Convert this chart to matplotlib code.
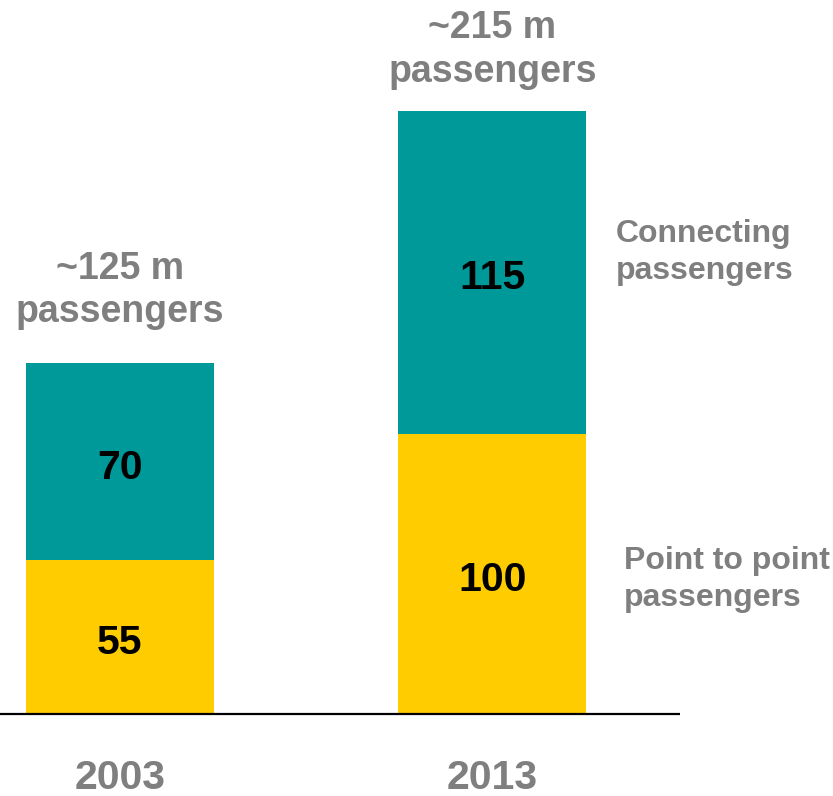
import matplotlib
matplotlib.use("Agg")
import matplotlib.pyplot as plt

# Passenger volumes (millions)
years = ["2003", "2013"]
point_to_point = [55, 100]
connecting = [70, 115]
total_labels = ["~125 m\npassengers", "~215 m\npassengers"]
series_names = ["Point to point\npassengers", "Connecting\npassengers"]

TEAL = "#009999"
YELLOW = "#FFCC00"
GREY = "#7F7F7F"
FONT = "Liberation Sans"

W, H, DPI = 833, 796, 100
fig = plt.figure(figsize=(W / DPI, H / DPI), dpi=DPI)
base_px = 714
ax = fig.add_axes([0, (H - base_px) / H, 1, base_px / H])

px_per_val = 603 / 215.0
ax.set_ylim(0, base_px / px_per_val)
px_per_x = 372.5
ax.set_xlim(-120 / px_per_x, (W - 120) / px_per_x)
ax.axis("off")

x = list(range(len(years)))
width = 188 / px_per_x
ax.bar(x, point_to_point, width=width, color=YELLOW, linewidth=0)
ax.bar(x, connecting, width=width, bottom=point_to_point, color=TEAL, linewidth=0)

# baseline
ax.plot([0, 680 / W], [0, 0], transform=ax.transAxes, color="black",
        lw=1.6, clip_on=False, solid_capstyle="butt")

# segment values
value_kw = dict(ha="center", va="center", fontsize=29.5, fontweight="bold",
                family=FONT, color="black", textcoords="offset pixels",
                xytext=(0, -6))
for xi, p, c in zip(x, point_to_point, connecting):
    ax.annotate(f"{p}", xy=(xi, p / 2), **value_kw)
    ax.annotate(f"{c}", xy=(xi, p + c / 2), **value_kw)

# totals above bars
offsets_px = [73, 61]
for xi, p, c, lab, off in zip(x, point_to_point, connecting, total_labels, offsets_px):
    ax.annotate(lab, xy=(xi, p + c), xytext=(0, off), textcoords="offset pixels",
                ha="center", va="center", fontsize=27, fontweight="bold",
                family=FONT, color=GREY, linespacing=1.25)

# year labels
for xi, y in zip(x, years):
    ax.annotate(y, xy=(xi, 0), xytext=(0, -64), textcoords="offset pixels",
                ha="center", va="center", fontsize=29.5, fontweight="bold",
                family=FONT, color=GREY)

# series names to the right of the last bar
last = x[-1]
ax.annotate(series_names[1], xy=(last, point_to_point[-1] + connecting[-1] / 2),
            xytext=(616 - 492.5, 20), textcoords="offset pixels",
            ha="left", va="center", fontsize=23, fontweight="bold",
            family=FONT, color=GREY, linespacing=1.3)
ax.annotate(series_names[0], xy=(last, point_to_point[-1] / 2),
            xytext=(624 - 492.5, -6), textcoords="offset pixels",
            ha="left", va="center", fontsize=23, fontweight="bold",
            family=FONT, color=GREY, linespacing=1.3)

fig.savefig("out.png", dpi=DPI)
